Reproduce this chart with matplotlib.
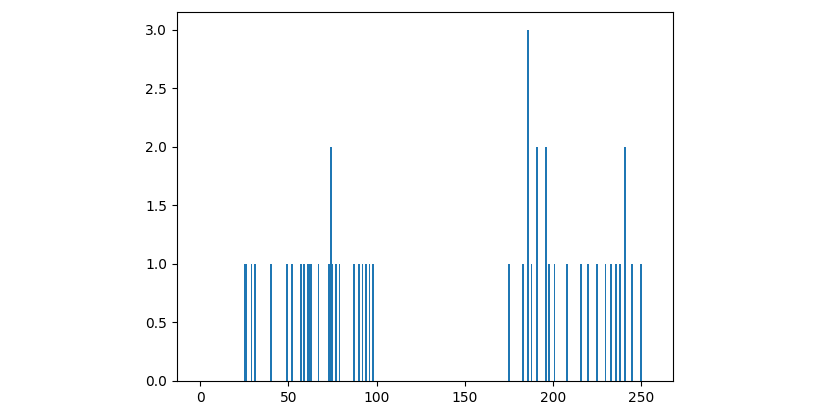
import matplotlib
matplotlib.use("Agg")
import matplotlib.pyplot as plt
import numpy as np

# pixel values (0-255) that occur, and how often
values = [25, 26, 29, 31, 40, 49, 52, 57, 59, 61, 62, 63, 67, 73, 74, 75, 77, 79,
          87, 90, 92, 94, 96, 98,
          175, 183, 186, 188, 191, 196, 198, 201, 208, 216, 220, 225, 230, 233,
          236, 238, 241, 245, 250]
counts = [1, 1, 1, 1, 1, 1, 1, 1, 1, 1, 1, 1, 1, 1, 2, 1, 1, 1,
          1, 1, 1, 1, 1, 1,
          1, 1, 3, 1, 2, 2, 1, 1, 1, 1, 1, 1, 1, 1,
          1, 1, 2, 1, 1]

hist = np.zeros(256)
for v, c in zip(values, counts):
    hist[v] = c

fig = plt.figure(figsize=(8.26, 4.09), dpi=100)
ax = fig.add_axes([177 / 826, 28 / 409, 496 / 826, 369 / 409])
ax.bar(np.arange(256), hist, width=1.0, color="#1f77b4")
fig.savefig("out.png", dpi=100)
